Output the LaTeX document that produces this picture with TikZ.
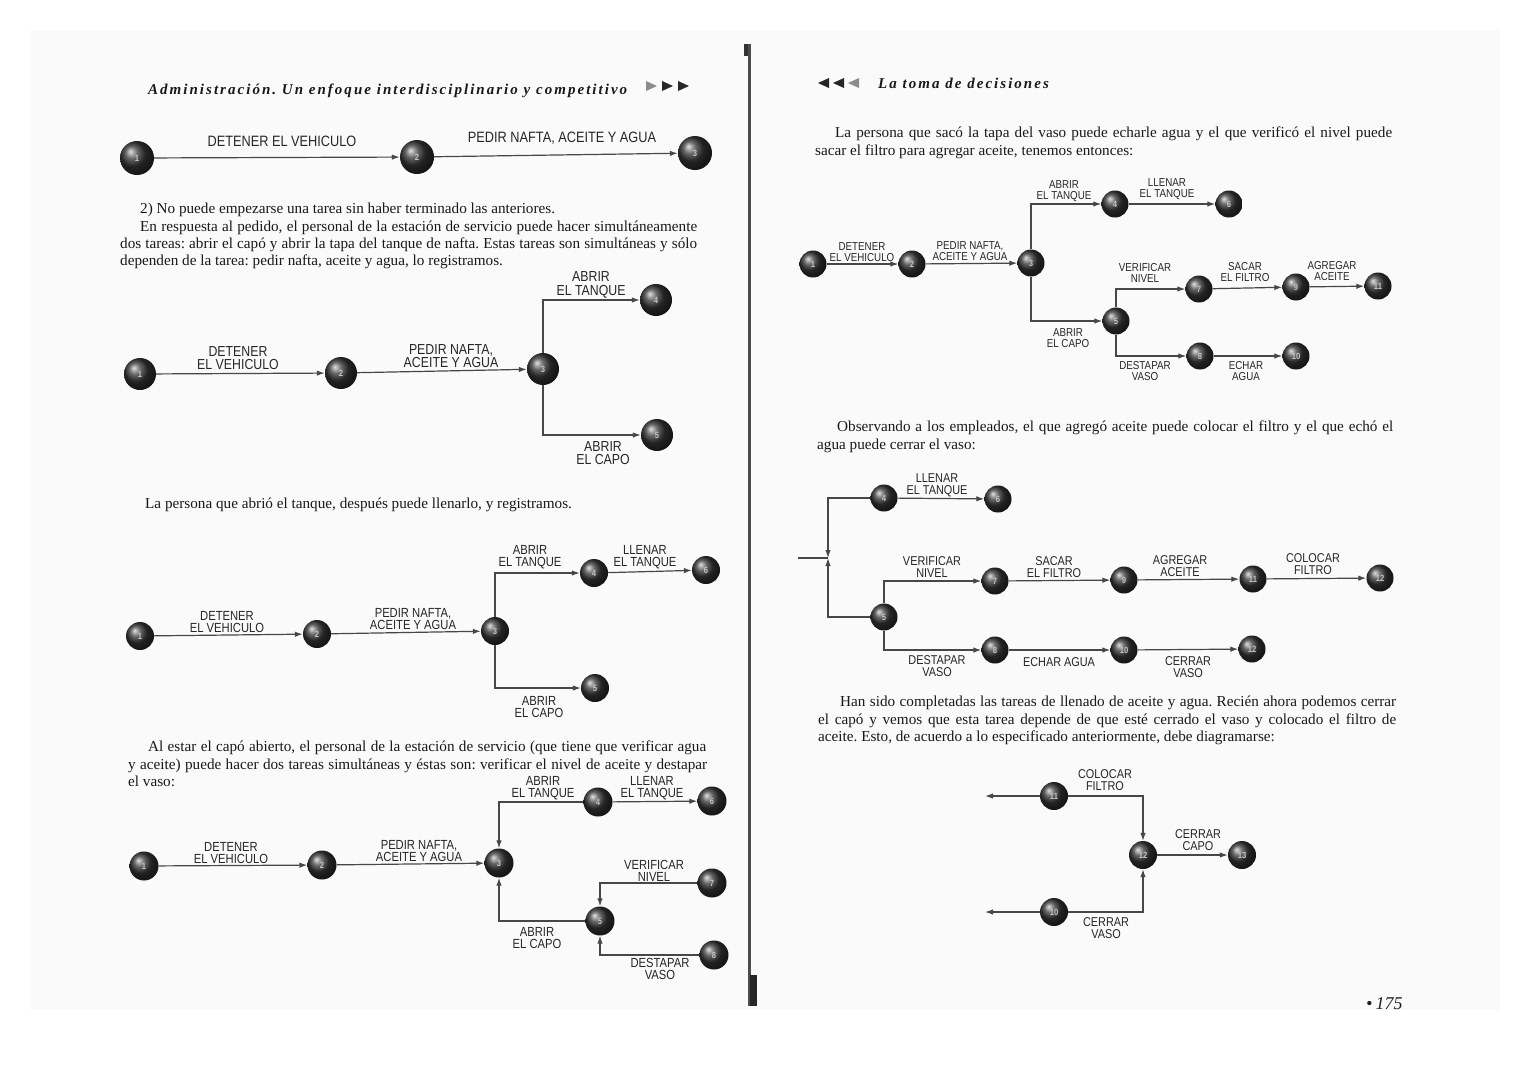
\documentclass[tikz,border=0pt]{standalone}
\usepackage{fontspec}
\setmainfont{Liberation Serif}
\newfontfamily\labfam{Liberation Sans}[FakeStretch=0.85]
\newfontfamily\headfam{Liberation Serif}[LetterSpace=13.5]
\usetikzlibrary{arrows.meta}
\frenchspacing
\tikzset{
  ev/.style={circle, shading=ball, ball color=black!80, minimum size=#1, inner sep=0pt,
    font=\labfam\bfseries\fontsize{9}{9}\selectfont, text=gray!45},
  ev/.default=28pt,
  arr/.style={draw=black!72, line width=1.2pt, -{Latex[length=8pt,width=5.5pt]}},
  ln/.style={draw=black!72, line width=1.2pt},
  labA/.style={align=center, inner sep=0pt, text=black!85, font=\labfam\fontsize{15}{14}\selectfont},
  labB/.style={align=center, inner sep=0pt, text=black!85, font=\labfam\fontsize{14.5}{13.8}\selectfont},
  labC/.style={align=center, inner sep=0pt, text=black!85, font=\labfam\fontsize{13.2}{12.4}\selectfont},
  labR/.style={align=center, inner sep=0pt, text=black!85, font=\labfam\fontsize{11.5}{11}\selectfont},
  labS/.style={align=center, inner sep=0pt, text=black!85, font=\labfam\fontsize{12.8}{12.2}\selectfont},
  txt/.style={anchor=base west, inner sep=0pt, text=black!90, font=\fontsize{15.2}{17}\selectfont},
  head/.style={anchor=base west, inner sep=0pt, text=black!90, font=\headfam\bfseries\itshape\fontsize{15}{17}\selectfont},
}
\begin{document}
\begin{tikzpicture}[x=1pt,y=-1pt]
\fill[white] (0,0) rectangle (1528,1080);
\useasboundingbox (0,0) rectangle (1528,1080);
\fill[black!2] (30,30) rectangle (1500,1010);
% gutter
\fill[black!70] (748,44) rectangle (751,1006);
\fill[black!85] (750,975) rectangle (757,1006);
\fill[black!80] (744,44) rectangle (748,56);

% ===== LEFT PAGE =====
\node[head] (hl) at (148,94) {Administración. Un enfoque interdisciplinario y competitivo};
\fill[black!45] (646,81) -- (657,86) -- (646,91) -- cycle;
\fill[black!85] (662,81) -- (673,86) -- (662,91) -- cycle;
\fill[black!85] (678,81) -- (689,86) -- (678,91) -- cycle;

% Diagram A
\node[ev=34pt] (a1) at (137,158) {1};
\node[ev=34pt] (a2) at (417,157) {2};
\node[ev=34pt] (a3) at (695,153) {3};
\draw[arr] (a1) -- (a2);
\draw[arr] (a2) -- (a3);
\node[labA] (la1) at (282,141) {DETENER EL VEHICULO};
\node[labA] (la2) at (562,138) {PEDIR NAFTA, ACEITE Y AGUA};

\node[txt] (t1) at (140,213) {2) No puede empezarse una tarea sin haber terminado las anteriores.};
\node[txt] (t2) at (140,231) {\makebox[557pt][s]{En respuesta al pedido, el personal de la estación de servicio puede hacer simultáneamente}};
\node[txt] (t3) at (120,248) {\makebox[577pt][s]{dos tareas: abrir el capó y abrir la tapa del tanque de nafta. Estas tareas son simultáneas y sólo}};
\node[txt] (t4) at (120,265) {dependen de la tarea: pedir nafta, aceite y agua, lo registramos.};

% Diagram B
\node[ev=32pt] (b1) at (140,374) {1};
\node[ev=32pt] (b2) at (341,373) {2};
\node[ev=32pt] (b3) at (543,369) {3};
\node[ev=32pt] (b4) at (656,300) {4};
\node[ev=32pt] (b5) at (657,435) {5};
\draw[arr] (b1) -- (b2);
\draw[arr] (b2) -- (b3);
\draw[arr] (b3) |- (b4);
\draw[arr] (b3) |- (b5);
\node[labB] (lb1) at (238,358) {DETENER\\EL VEHICULO};
\node[labB] (lb2) at (451,356) {PEDIR NAFTA,\\ACEITE Y AGUA};
\node[labB] (lb3) at (591,285) {ABRIR\\EL TANQUE};
\node[labB] (lb4) at (603,453) {ABRIR\\EL CAPO};

\node[txt] (t5) at (145,508) {La persona que abrió el tanque, después puede llenarlo, y registramos.};

% Diagram C
\node[ev=28pt] (c1) at (140,636) {1};
\node[ev=28pt] (c2) at (317,634) {2};
\node[ev=28pt] (c3) at (495,631) {3};
\node[ev=28pt] (c4) at (594,573) {4};
\node[ev=28pt] (c6) at (706,570) {6};
\node[ev=28pt] (c5) at (595,688) {5};
\draw[arr] (c1) -- (c2);
\draw[arr] (c2) -- (c3);
\draw[arr] (c3) |- (c4);
\draw[arr] (c4) -- (c6);
\draw[arr] (c3) |- (c5);
\node[labC] (lc1) at (227,622) {DETENER\\EL VEHICULO};
\node[labC] (lc2) at (413,619) {PEDIR NAFTA,\\ACEITE Y AGUA};
\node[labC] (lc3) at (530,557) {ABRIR\\EL TANQUE};
\node[labC] (lc4) at (645,557) {LLENAR\\EL TANQUE};
\node[labC] (lc5) at (539,707) {ABRIR\\EL CAPO};

\node[txt] (t6) at (148,751) {\makebox[558pt][s]{Al estar el capó abierto, el personal de la estación de servicio (que tiene que verificar agua}};
\node[txt] (t7) at (128,769) {\makebox[579pt][s]{y aceite) puede hacer dos tareas simultáneas y éstas son: verificar el nivel de aceite y destapar}};
\node[txt] (t8) at (128,786) {el vaso:};

% Diagram D
\node[ev=29pt] (d1) at (144,866) {1};
\node[ev=29pt] (d2) at (322,865) {2};
\node[ev=29pt] (d3) at (499,863) {3};
\node[ev=29pt] (d4) at (598,802) {4};
\node[ev=29pt] (d6) at (712,801) {6};
\node[ev=29pt] (d7) at (712,883) {7};
\node[ev=29pt] (d5) at (600,921) {5};
\node[ev=29pt] (d8) at (714,955) {8};
\draw[arr] (d1) -- (d2);
\draw[arr] (d2) -- (d3);
\draw[arr] (d4) -| (d3);
\draw[arr] (d4) -- (d6);
\draw[arr] (d5) -| (d3);
\draw[arr] (d7) -| (d5);
\draw[arr] (d8) -| (d5);
\node[labC] (ld1) at (231,853) {DETENER\\EL VEHICULO};
\node[labC] (ld2) at (419,851) {PEDIR NAFTA,\\ACEITE Y AGUA};
\node[labC] (ld3) at (543,788) {ABRIR\\EL TANQUE};
\node[labC] (ld4) at (652,788) {LLENAR\\EL TANQUE};
\node[labC] (ld5) at (654,871) {VERIFICAR\\NIVEL};
\node[labC] (ld6) at (537,938) {ABRIR\\EL CAPO};
\node[labC] (ld7) at (660,969) {DESTAPAR\\VASO};

% ===== RIGHT PAGE =====
\fill[black!85] (818,83) -- (829,78) -- (829,88) -- cycle;
\fill[black!85] (833,83) -- (844,78) -- (844,88) -- cycle;
\fill[black!45] (848,83) -- (859,78) -- (859,88) -- cycle;
\node[head] (hr) at (878,88) {La toma de decisiones};

\node[txt] (u1) at (835,137) {\makebox[557pt][s]{La persona que sacó la tapa del vaso puede echarle agua y el que verificó el nivel puede}};
\node[txt] (u2) at (815,155) {sacar el filtro para agregar aceite, tenemos entonces:};

% Diagram R1
\node[ev=27pt] (r1) at (813,264) {1};
\node[ev=27pt] (r2) at (912,264) {2};
\node[ev=27pt] (r3) at (1031,263) {3};
\node[ev=27pt] (r4) at (1115,204) {4};
\node[ev=27pt] (r6) at (1229,204) {6};
\node[ev=27pt] (r5) at (1116,321) {5};
\node[ev=27pt] (r7) at (1199,289) {7};
\node[ev=27pt] (r9) at (1296,287) {9};
\node[ev=27pt] (r11) at (1378,286) {11};
\node[ev=27pt] (r8) at (1200,356) {8};
\node[ev=27pt] (r10) at (1296,356) {10};
\draw[arr] (r1) -- (r2);
\draw[arr] (r2) -- (r3);
\draw[arr] (r3) |- (r4);
\draw[arr] (r4) -- (r6);
\draw[arr] (r3) |- (r5);
\draw[arr] (r5) |- (r7);
\draw[arr] (r7) -- (r9);
\draw[arr] (r9) -- (r11);
\draw[arr] (r5) |- (r8);
\draw[arr] (r8) -- (r10);
\node[labR] (lr1) at (862,252) {DETENER\\EL VEHICULO};
\node[labR] (lr2) at (970,251) {PEDIR NAFTA,\\ACEITE Y AGUA};
\node[labR] (lr3) at (1064,191) {ABRIR\\EL TANQUE};
\node[labR] (lr4) at (1167,189) {LLENAR\\EL TANQUE};
\node[labR] (lr5) at (1145,273) {VERIFICAR\\NIVEL};
\node[labR] (lr6) at (1245,272) {SACAR\\EL FILTRO};
\node[labR] (lr7) at (1332,271) {AGREGAR\\ACEITE};
\node[labR] (lr8) at (1068,338) {ABRIR\\EL CAPO};
\node[labR] (lr9) at (1145,371) {DESTAPAR\\VASO};
\node[labR] (lr10) at (1246,371) {ECHAR\\AGUA};

\node[txt] (u3) at (837,431) {\makebox[556pt][s]{Observando a los empleados, el que agregó aceite puede colocar el filtro y el que echó el}};
\node[txt] (u4) at (817,449) {agua puede cerrar el vaso:};

% Diagram R2
\coordinate (sin) at (798,558);
\coordinate (sj) at (828,558);
\node[ev=27pt] (s4) at (884,498) {4};
\node[ev=27pt] (s6) at (998,499) {6};
\node[ev=27pt] (s5) at (884,617) {5};
\node[ev=27pt] (s7) at (995,581) {7};
\node[ev=27pt] (s9) at (1124,580) {9};
\node[ev=27pt] (s11) at (1253,579) {11};
\node[ev=27pt] (s12) at (1380,578) {12};
\node[ev=27pt] (s8) at (995,650) {8};
\node[ev=27pt] (s10) at (1124,650) {10};
\node[ev=27pt] (s13) at (1252,649) {12};
\draw[ln] (sin) -- (sj);
\draw[arr] (s4) -| (sj);
\draw[arr] (s5) -| (sj);
\draw[arr] (s4) -- (s6);
\draw[arr] (s5) |- (s7);
\draw[arr] (s7) -- (s9);
\draw[arr] (s9) -- (s11);
\draw[arr] (s11) -- (s12);
\draw[arr] (s5) |- (s8);
\draw[arr] (s8) -- (s10);
\draw[arr] (s10) -- (s13);
\node[labS] (ls1) at (937,485) {LLENAR\\EL TANQUE};
\node[labS] (ls2) at (932,567) {VERIFICAR\\NIVEL};
\node[labS] (ls3) at (1054,567) {SACAR\\EL FILTRO};
\node[labS] (ls4) at (1180,566) {AGREGAR\\ACEITE};
\node[labS] (ls5) at (1313,564) {COLOCAR\\FILTRO};
\node[labS] (ls6) at (937,666) {DESTAPAR\\VASO};
\node[labS] (ls7) at (1059,662) {ECHAR AGUA};
\node[labS] (ls8) at (1188,667) {CERRAR\\VASO};

\node[txt] (u5) at (840,706) {\makebox[556pt][s]{Han sido completadas las tareas de llenado de aceite y agua. Recién ahora podemos cerrar}};
\node[txt] (u6) at (818,724) {\makebox[578pt][s]{el capó y vemos que esta tarea depende de que esté cerrado el vaso y colocado el filtro de}};
\node[txt] (u7) at (818,741) {aceite. Esto, de acuerdo a lo especificado anteriormente, debe diagramarse:};

% Final diagram
\coordinate (fo1) at (985,796);
\coordinate (fo2) at (985,912);
\node[ev=28pt] (f11) at (1054,796) {11};
\node[ev=28pt] (f10) at (1054,912) {10};
\node[ev=28pt] (f12) at (1143,855) {12};
\node[ev=28pt] (f13) at (1242,855) {13};
\draw[arr] (f11) -- (fo1);
\draw[arr] (f10) -- (fo2);
\draw[arr] (f11) -| (f12);
\draw[arr] (f10) -| (f12);
\draw[arr] (f12) -- (f13);
\node[labS] (lf1) at (1105,780) {COLOCAR\\FILTRO};
\node[labS] (lf2) at (1198,840) {CERRAR\\CAPO};
\node[labS] (lf3) at (1106,928) {CERRAR\\VASO};

\node[anchor=base west, inner sep=0pt, font=\itshape\fontsize{18}{20}\selectfont, text=black!88] (pg) at (1366,1009) {\textbullet\,175};
\end{tikzpicture}
\end{document}
